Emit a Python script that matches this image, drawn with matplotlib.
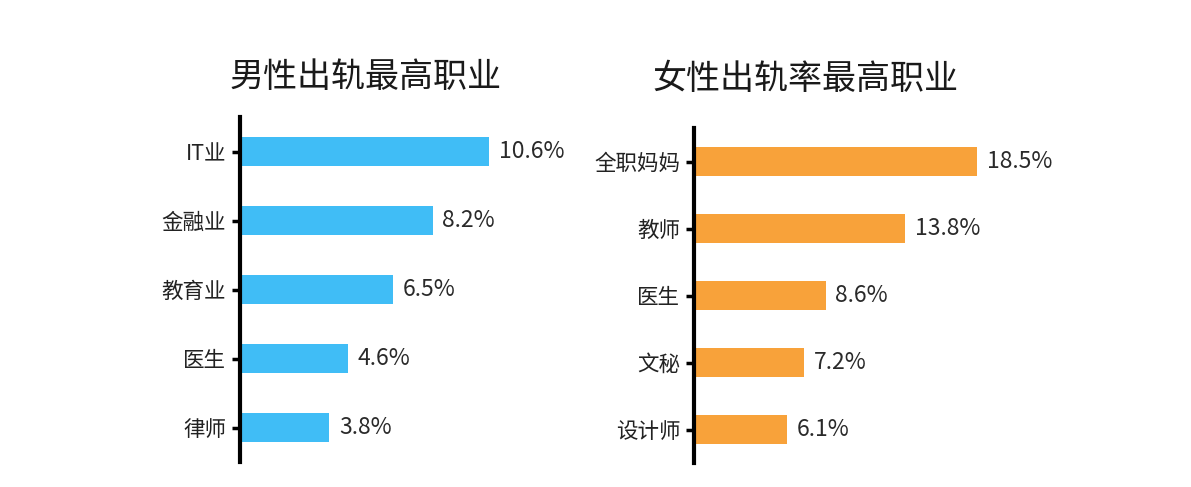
import matplotlib.pyplot as plt

plt.rcParams['font.family'] = ['Noto Sans CJK SC', 'DejaVu Sans']

# 男性
male_jobs = ['IT业', '金融业', '教育业', '医生', '律师']
male_vals = [10.6, 8.2, 6.5, 4.6, 3.8]
# 女性
female_jobs = ['全职妈妈', '教师', '医生', '文秘', '设计师']
female_vals = [18.5, 13.8, 8.6, 7.2, 6.1]

W, H = 1191, 487
fig = plt.figure(figsize=(W / 100, H / 100), dpi=100)
fig.patch.set_facecolor('white')


def draw(ax, jobs, vals, color, xmax, title, tx, ty):
    pos = list(range(len(jobs)))
    ax.barh(pos, vals, height=0.42, color=color)
    for p, v in zip(pos, vals):
        ax.annotate(f'{v}%', (v, p), xytext=(7, 0), textcoords='offset points',
                    va='center', ha='left', fontsize=16.5, color='#2a2a2a')
    ax.set_ylim(len(jobs) - 0.5, -0.5)
    ax.set_xlim(0, xmax)
    ax.set_yticks(pos)
    ax.set_yticklabels(jobs, fontsize=15.5, color='#222222', fontweight='medium')
    ax.set_xticks([])
    for s in ['top', 'right', 'bottom']:
        ax.spines[s].set_visible(False)
    ax.spines['left'].set_linewidth(3)
    ax.spines['left'].set_color('black')
    ax.tick_params(axis='y', length=6, width=2.5, color='black', pad=4)
    ax.set_facecolor('none')
    fig.text(tx / W, 1 - ty / H, title, ha='center', va='center',
             fontsize=24.5, color='#1a1a1a', fontweight='medium')


ax1 = fig.add_axes([240 / W, 1 - 462 / H, 282 / W, 345 / H])
draw(ax1, male_jobs, male_vals, '#40BDF6', 12, '男性出轨最高职业', 366, 78)

ax2 = fig.add_axes([694 / W, 1 - 463 / H, 306 / W, 335 / H])
draw(ax2, female_jobs, female_vals, '#F8A23A', 20, '女性出轨率最高职业', 805, 80)

fig.savefig('out.png', dpi=100, facecolor='white')
